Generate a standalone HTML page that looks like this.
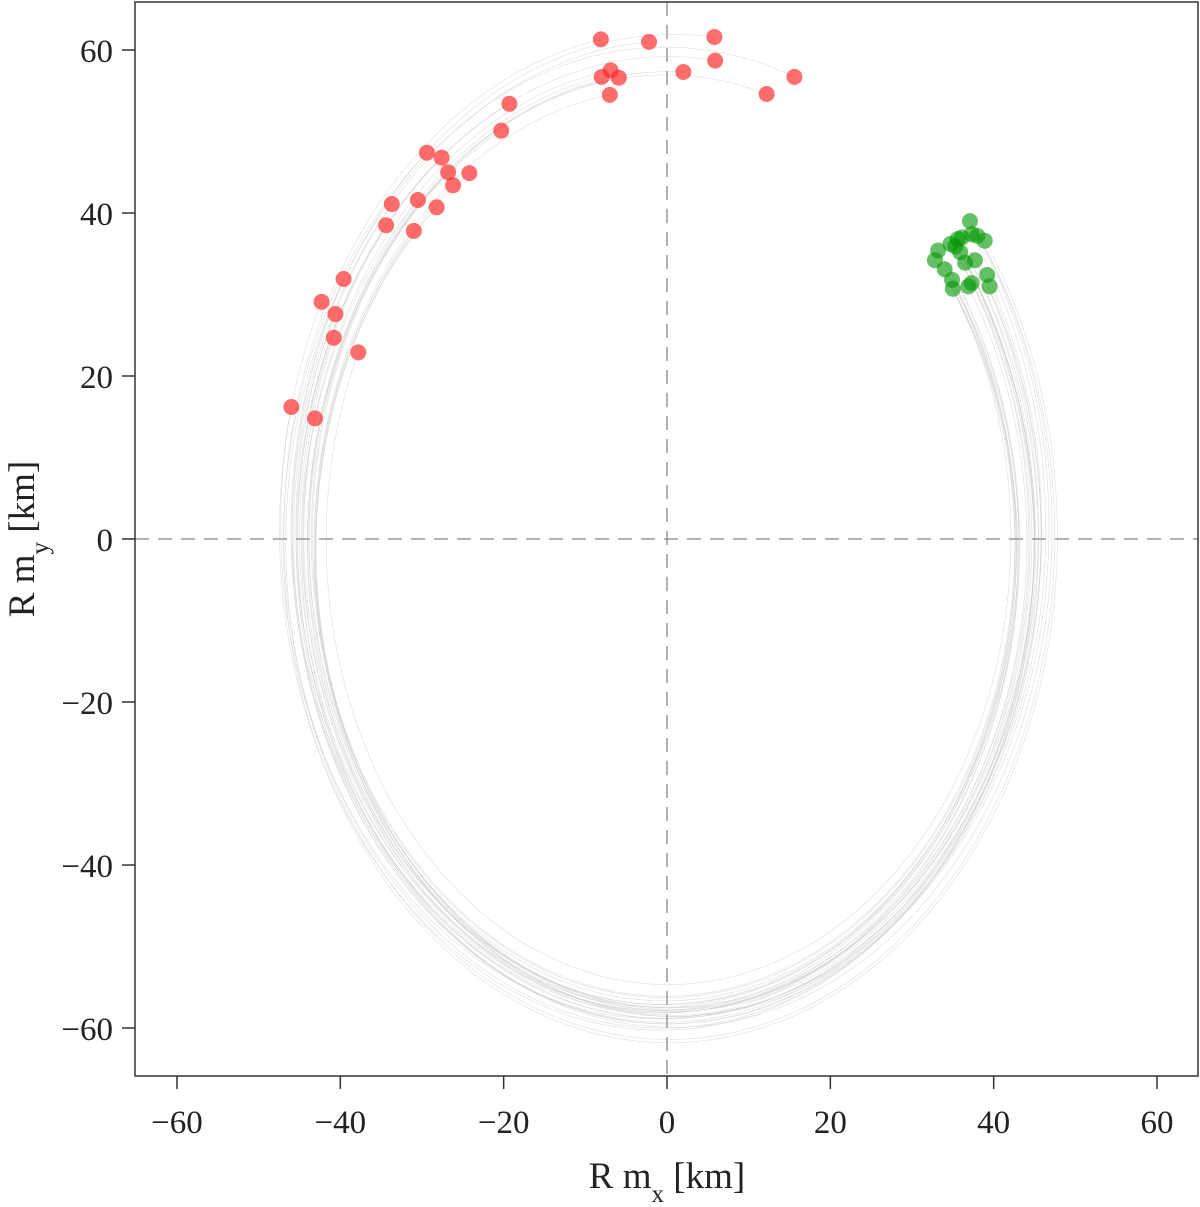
<!DOCTYPE html>
<html><head><meta charset="utf-8"><style>
body{margin:0;background:#fff;}
text{font-family:"Liberation Serif",serif;fill:#222;}
</style></head><body>
<svg id="c" width="1200" height="1202"></svg>
<script>
const xTicks=[-60,-40,-20,0,20,40,60];
const yTicks=[-60,-40,-20,0,20,40,60];
const redX=[-46.0,-43.1,-42.3,-40.6,-40.8,-39.6,-37.8,-34.4,-33.7,-30.5,-31.0,-28.2,-29.4,-27.6,-26.8,-26.2,-24.2,-20.3,-19.3,-8.1,-2.2,-8.0,-6.9,-7.0,-5.9,2.0,5.8,5.9,12.2,15.6];
const redY=[16.2,14.8,29.1,27.6,24.7,31.9,22.9,38.5,41.1,41.6,37.8,40.7,47.4,46.8,45.0,43.4,44.9,50.1,53.4,61.3,61.0,56.7,57.5,54.5,56.6,57.3,61.6,58.7,54.6,56.7];
const greenX=[32.8,33.2,34.7,35.6,34.0,34.9,35.0,35.9,36.5,37.1,37.3,38.0,38.9,36.9,37.3,37.7,39.2,39.5,36.1,35.3];
const greenY=[34.2,35.4,36.2,36.8,33.1,31.8,30.7,35.2,33.9,39.0,37.4,37.2,36.6,31.0,31.4,34.2,32.4,31.0,37.0,35.9];
const NS="http://www.w3.org/2000/svg";
const svg=document.getElementById('c');
const L=135,R=1198,T=2,B=1076;
const sx=v=>667+v*8.167, sy=v=>539-v*8.15;
function mk(t,a,p){const e=document.createElementNS(NS,t);for(const k in a)e.setAttribute(k,a[k]);(p||svg).appendChild(e);return e;}
const gT=mk('g',{});


const RX=46,RY=60;
for(let i=0;i<redX.length;i++){
  const gx=greenX[i%greenX.length],gy=greenY[i%greenY.length];
  const a0=Math.atan2(gy/RY,gx/RX), r0=Math.hypot(gx/RX,gy/RY);
  let a1=Math.atan2(redY[i]/RY,redX[i]/RX); const r1=Math.hypot(redX[i]/RX,redY[i]/RY);
  while(a1>a0-0.01)a1-=2*Math.PI;
  let d='';const N=200;
  for(let k=0;k<=N;k++){const t=k/N,a=a0+(a1-a0)*t,r=r0+(r1-r0)*t;
    d+=(k?'L':'M')+sx(r*RX*Math.cos(a)).toFixed(1)+','+sy(r*RY*Math.sin(a)).toFixed(1);}
  const p=mk('path',{d:d,fill:'none',stroke:'#c8c8c8','stroke-width':0.6,'stroke-opacity':0.6},gT);
  
  
}
const zx=mk('line',{x1:sx(0),x2:sx(0),y1:T,y2:B,stroke:'#999','stroke-width':1.5,'stroke-dasharray':'14,9'});


const zy=mk('line',{x1:L,x2:R,y1:sy(0),y2:sy(0),stroke:'#999','stroke-width':1.5,'stroke-dasharray':'14,9'});


for(let i=0;i<greenX.length;i++){const c=mk('circle',{cx:sx(greenX[i]),cy:sy(greenY[i]),r:8,fill:'rgb(0,150,0)','fill-opacity':0.6});

}
for(let i=0;i<redX.length;i++){const c=mk('circle',{cx:sx(redX[i]),cy:sy(redY[i]),r:8,fill:'rgb(255,30,30)','fill-opacity':0.65});

}
const fr=mk('rect',{x:L,y:T,width:R-L,height:B-T,fill:'none',stroke:'#333','stroke-width':1.5});


xTicks.forEach(v=>{const x=sx(v);mk('line',{x1:x,x2:x,y1:B,y2:B+13,stroke:'#333','stroke-width':1.5});
const t=mk('text',{x:x,y:B+57,'text-anchor':'middle','font-size':33});t.textContent=v<0?'\u2212'+(-v):v;

});
yTicks.forEach(v=>{const y=sy(v);mk('line',{x1:L-13,x2:L,y1:y,y2:y,stroke:'#333','stroke-width':1.5});
const t=mk('text',{x:L-22,y:y+12,'text-anchor':'end','font-size':33});t.textContent=v<0?'\u2212'+(-v):v;

});
const xt=mk('text',{x:667,y:1188,'text-anchor':'middle','font-size':37});
xt.innerHTML='R m<tspan baseline-shift="sub" font-size="25">x</tspan> [km]';


const yt=mk('text',{x:0,y:0,'text-anchor':'middle','font-size':37,transform:'translate(34,539) rotate(-90)'});
yt.innerHTML='R m<tspan baseline-shift="sub" font-size="25">y</tspan> [km]';


</script>
</body></html>
